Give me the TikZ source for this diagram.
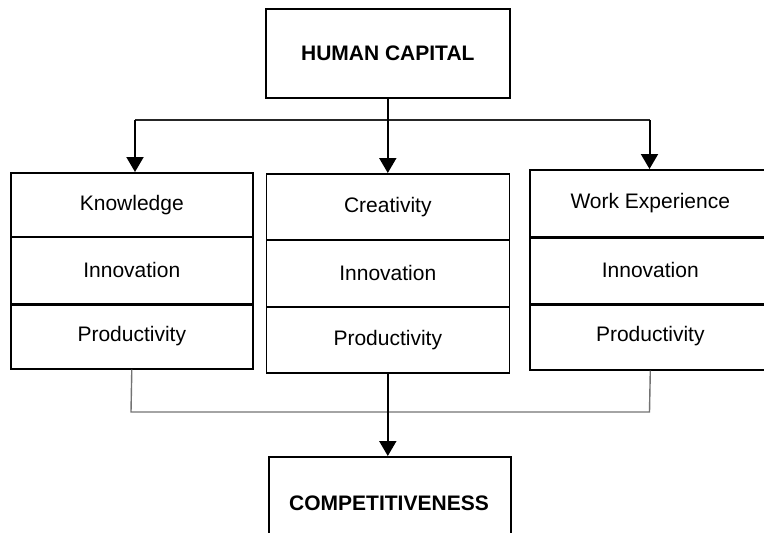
\documentclass[tikz,border=0pt]{standalone}
\usepackage{fontspec}
\setmainfont{Liberation Sans}
\usetikzlibrary{arrows.meta}
\begin{document}
\begin{tikzpicture}[x=1pt,y=-1pt,
  cell/.style={draw=black, line width=1.6pt, rectangle, inner sep=0pt, anchor=north west,
               font=\fontsize{21}{25}\selectfont},
  headbox/.style={cell, font=\fontsize{21}{25}\selectfont\bfseries},
  divider/.style={line width=3pt, black},
  shaft/.style={line width=2pt, black, -{Triangle[width=17pt,length=15pt]}},
  link/.style={line width=1.2pt, black!85},
  joinline/.style={line width=1.4pt, black!55}]
\clip (0,0) rectangle (764,533);

% top box
\node[headbox, minimum width=244pt, minimum height=89pt] (hc) at (265,8) {HUMAN CAPITAL};

% left column
\node[cell, minimum width=242pt, minimum height=64pt] (k1) at (10,172) {Knowledge};
\node[cell, minimum width=242pt, minimum height=67pt] (k2) at (10,236) {Innovation};
\node[cell, minimum width=242pt, minimum height=65pt] (k3) at (10,303) {Productivity};

% centre column
\node[cell, minimum width=243pt, minimum height=66pt] (c1) at (265.5,173) {Creativity};
\node[cell, minimum width=243pt, minimum height=67pt] (c2) at (265.5,239) {Innovation};
\node[cell, minimum width=243pt, minimum height=66pt] (c3) at (265.5,306) {Productivity};

% right column
\node[cell, minimum width=241pt, minimum height=67pt] (r1) at (529,169) {Work Experience};
\node[cell, minimum width=241pt, minimum height=66.5pt] (r2) at (529,236) {Innovation};
\node[cell, minimum width=241pt, minimum height=66.5pt] (r3) at (529,302.5) {Productivity};

% heavier row separators
\draw[divider] (k2.south west) -- (k2.south east);
\draw[divider] (r1.south west) -- (r1.south east);
\draw[divider] (r2.south west) -- (r2.south east);

% bottom box
\node[headbox, minimum width=242pt, minimum height=104pt] (comp) at (268,456) {};
\node[font=\fontsize{21}{25}\selectfont\bfseries] (complabel) at (389,503.5) {COMPETITIVENESS};

% distribution from the top box
\coordinate (tl) at (135,120);
\coordinate (tr) at (649.5,120);
\draw[link] (tl) -- (tr);
\draw[shaft] (tl) -- (tl |- k1.north);
\draw[shaft] (tr) -- (tr |- r1.north);
\draw[shaft] (hc.south) -- (c1.north);

% gathering into the bottom box
\coordinate (bl) at (131,412);
\coordinate (br) at (649.5,412);
\draw[joinline] (k3.south) -- (bl) -- (br) -- (r3.south);
\draw[shaft] (c3.south) -- (c3.south |- comp.north);
\end{tikzpicture}
\end{document}
